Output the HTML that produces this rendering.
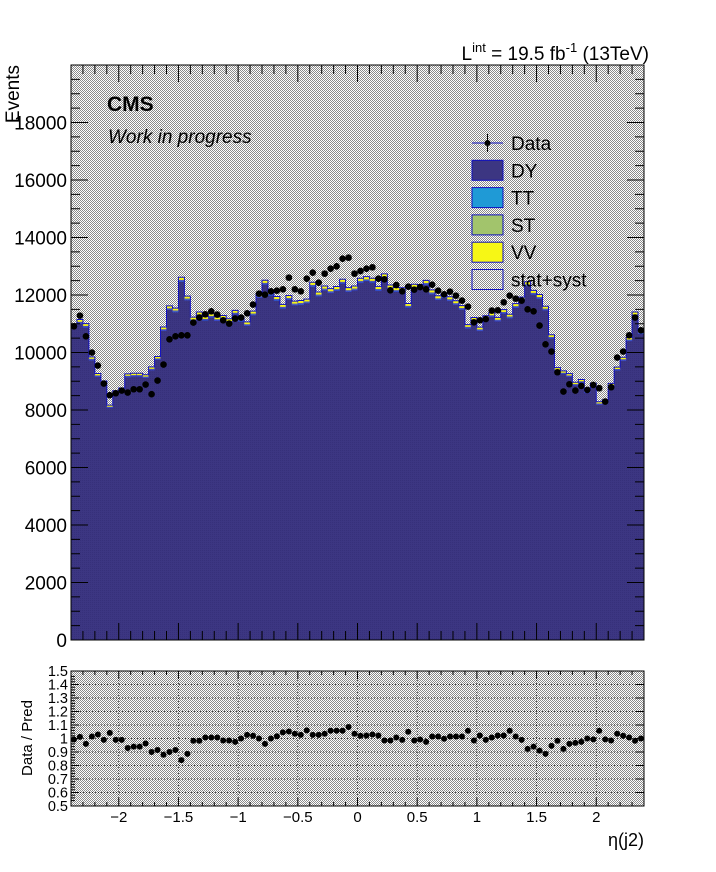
<!DOCTYPE html>
<html><head><meta charset="utf-8">
<style>
html,body{margin:0;padding:0;background:#fff;}
svg{display:block;font-family:"Liberation Sans",sans-serif;}
</style></head>
<body>
<svg id="chart" width="716" height="872" viewBox="0 0 716 872" xmlns="http://www.w3.org/2000/svg">
<defs>
<pattern id="hatch" width="2" height="2" patternUnits="userSpaceOnUse">
<rect width="2" height="2" fill="#ffffff"/>
<rect width="1" height="1" fill="#8a8a8a"/>
<rect x="1" y="1" width="1" height="1" fill="#8a8a8a"/>
</pattern>
<pattern id="dyfill" width="2" height="2" patternUnits="userSpaceOnUse">
<rect width="2" height="2" fill="#3c3682"/>
<rect width="1" height="1" fill="#36307a"/>
</pattern>
</defs>
<g id="main"></g>
<g id="ratio"></g>
<text x="649" y="60" text-anchor="end" font-size="19">L<tspan dy="-8" font-size="13">int</tspan><tspan dy="8"> = 19.5 fb</tspan><tspan dy="-8" font-size="13">-1</tspan><tspan dy="8"> (13TeV)</tspan></text>
<text x="107" y="111" font-size="21" font-weight="bold">CMS</text>
<text x="108" y="143" font-size="19" font-style="italic">Work in progress</text>
<text transform="translate(19,65) rotate(-90)" text-anchor="end" font-size="19">Events</text>
<text transform="translate(32,738) rotate(-90)" text-anchor="middle" font-size="15">Data / Pred</text>
<text x="644" y="846" text-anchor="end" font-size="18">η(j2)</text>
<g id="legend"></g>
</svg>
<script>
const binLow = -2.4;
const binWidth = 0.05;
const dataCounts = [10911,11283,10564,9998,9546,8920,8514,8583,8677,8608,8722,8722,8886,8549,9025,9581,10460,10564,10599,10599,11040,11214,11329,11433,11318,11120,11005,11179,11214,11363,11666,12048,12013,12128,12152,12197,12604,12197,12128,12569,12778,12430,12743,12917,12997,13264,13299,12743,12833,12916,12962,12569,12545,12163,12347,12128,12291,12187,12277,12197,12360,12152,12024,12117,11978,11805,11596,11051,11120,11165,11457,11468,11746,11978,11874,11805,11502,11433,10936,10286,10032,9313,8642,8896,8677,8837,8698,8872,8757,8295,8792,9824,10032,10599,11214,10772];
const mcTotal = [10988,11149,11004,9850,9268,9010,8171,8670,8765,9256,9279,9279,9227,9499,9863,10888,11622,11545,12618,11963,11231,11408,11250,11354,11239,11289,11173,11466,11214,11064,11437,12048,12514,12128,11949,11672,11981,11785,11809,11858,12442,12103,12312,12220,12296,12549,12257,12312,12581,12638,12584,12298,12736,12348,12261,12251,11706,12373,12364,12510,12177,11972,12048,11938,11801,11631,10971,11219,10881,11278,11377,11221,11493,11332,11699,11924,12461,12163,12018,11609,10616,9474,9363,9267,8964,9063,8698,8934,8285,8353,8926,9492,9835,10525,11408,10772];
const processNames = ["DY","TT","ST","VV"];
const processShares = [0.988,0.002,0.002,0.008];
const processColors = ["url(#dyfill)","#1f9ad6","#a2c46c","#f7f715"];
const yTicks = [0,2000,4000,6000,8000,10000,12000,14000,16000,18000];
const ratioTicks = ["0.5","0.6","0.7","0.8","0.9","1","1.1","1.2","1.3","1.4","1.5"];
const xTicks = [-2,-1.5,-1,-0.5,0,0.5,1,1.5,2];

const NS="http://www.w3.org/2000/svg";
const L=71,R=644,T=65,B=640,RT=671,RB=806;
const X=v=>L+(v+2.4)/4.8*(R-L);
const Y=v=>B-v/20000*(B-T);
const YR=r=>RB-(r-0.5)*(RB-RT);
function el(tag,attrs,parent){const e=document.createElementNS(NS,tag);for(const k in attrs)e.setAttribute(k,attrs[k]);parent.appendChild(e);return e;}
const main=document.getElementById('main'), ratio=document.getElementById('ratio'), legend=document.getElementById('legend');

let bg=el('rect',{x:L,y:T,width:R-L,height:B-T,fill:'url(#hatch)'},main);


let rbg=el('rect',{x:L,y:RT,width:R-L,height:RB-RT,fill:'url(#hatch)'},ratio);



const n=dataCounts.length;
let cum=new Array(n).fill(0);
processNames.forEach((p,pi)=>{
  let d='';
  for(let i=0;i<n;i++){
    const lo=cum[i], hi=cum[i]+mcTotal[i]*processShares[pi];
    const x0=X(binLow+i*binWidth), x1=X(binLow+(i+1)*binWidth);
    d+=`M${x0},${Y(lo)}L${x0},${Y(hi)}L${x1},${Y(hi)}L${x1},${Y(lo)}Z`;
    cum[i]=hi;
  }
  const path=el('path',{d:d,fill:processColors[pi],stroke:pi==0?'none':'#3030d0','stroke-width':0.4},main);
  
  
});
let od=`M${X(binLow)},${Y(0)}`;
for(let i=0;i<n;i++){od+=`L${X(binLow+i*binWidth)},${Y(cum[i])}L${X(binLow+(i+1)*binWidth)},${Y(cum[i])}`;}
od+=`L${X(binLow+n*binWidth)},${Y(0)}`;
let outline=el('path',{d:od,fill:'none',stroke:'#1010c0','stroke-width':1},main);



for(let i=0;i<n;i++){
  const cx=X(binLow+(i+0.5)*binWidth), cy=Y(dataCounts[i]);
  const err=Math.sqrt(dataCounts[i]);
  el('line',{x1:cx,x2:cx,y1:Y(dataCounts[i]+err),y2:Y(dataCounts[i]-err),stroke:'#000','stroke-width':1},main);
  const c=el('circle',{cx:cx,cy:cy,r:3.3,fill:'#000'},main);
  
  
}

let fr=el('rect',{x:L,y:T,width:R-L,height:B-T,fill:'none',stroke:'#000','stroke-width':1},main);


for(let v=0;v<=20000;v+=500){
  const len=(v%2000==0)?17:9;
  el('line',{x1:L,x2:L+len,y1:Y(v),y2:Y(v),stroke:'#000'},main);
  el('line',{x1:R,x2:R-len,y1:Y(v),y2:Y(v),stroke:'#000'},main);
}
yTicks.forEach(v=>{
  const t=el('text',{x:67,y:Y(v)+7,'text-anchor':'end','font-size':19},main);
  t.textContent=v;
  
  
});
for(let k=-24;k<=24;k++){
  const v=k/10, len=(k%5==0)?17:9;
  el('line',{x1:X(v),x2:X(v),y1:B,y2:B-len,stroke:'#000'},main);
  el('line',{x1:X(v),x2:X(v),y1:T,y2:T+len,stroke:'#000'},main);
  const len2=(k%5==0)?8:4;
  el('line',{x1:X(v),x2:X(v),y1:RB,y2:RB-len2,stroke:'#000'},ratio);
  el('line',{x1:X(v),x2:X(v),y1:RT,y2:RT+len2,stroke:'#000'},ratio);
}

ratioTicks.forEach(s=>{
  const r=parseFloat(s);
  el('line',{x1:L,x2:R,y1:YR(r),y2:YR(r),stroke:'#000','stroke-dasharray':'1,2','stroke-width':0.7},ratio);
  el('line',{x1:L,x2:L+8,y1:YR(r),y2:YR(r),stroke:'#000'},ratio);
  el('line',{x1:R,x2:R-8,y1:YR(r),y2:YR(r),stroke:'#000'},ratio);
  const t=el('text',{x:68,y:YR(r)+5,'text-anchor':'end','font-size':14.5},ratio);
  t.textContent=s;
  
  
});
for(let k=-23;k<=23;k++){
  if(k%5==0)continue;
  el('line',{x1:L,x2:L+4,y1:YR(0.5+(k+25)*0.02),y2:YR(0.5+(k+25)*0.02),stroke:'#000'},ratio);
}
xTicks.forEach(v=>{
  el('line',{x1:X(v),x2:X(v),y1:RT,y2:RB,stroke:'#000','stroke-dasharray':'1,2','stroke-width':0.7},ratio);
  const t=el('text',{x:X(v),y:822,'text-anchor':'middle','font-size':15},ratio);
  t.textContent=(v<0?'\u2212'+(-v):String(v));
  
  
});
for(let i=0;i<n;i++){
  const r=dataCounts[i]/mcTotal[i];
  const c=el('circle',{cx:X(binLow+(i+0.5)*binWidth),cy:YR(r),r:3,fill:'#000'},ratio);
  
  
}
let rfr=el('rect',{x:L,y:RT,width:R-L,height:RB-RT,fill:'none',stroke:'#000','stroke-width':1},ratio);



const legLabels=["Data","DY","TT","ST","VV","stat+syst"];
const legFills=[null,"#3c3682","#1f9ad6","#a2c46c","#f7f715","url(#hatch)"];
legLabels.forEach((lab,i)=>{
  const cy=143+i*27.3;
  const g=el('g',{},legend);
  
  
  if(i==0){
    el('line',{x1:472,x2:503,y1:cy,y2:cy,stroke:'#1010c0','stroke-width':1},g);
    el('line',{x1:487.5,x2:487.5,y1:cy-9,y2:cy+9,stroke:'#000','stroke-width':1},g);
    el('circle',{cx:487.5,cy:cy,r:3,fill:'#000'},g);
  } else {
    el('rect',{x:472,y:cy-10,width:31,height:20,fill:legFills[i],stroke:'#1010c0','stroke-width':1},g);
  }
  const t=el('text',{x:511,y:cy+7,'font-size':19},g);
  t.textContent=lab;
});
</script>
</body></html>
